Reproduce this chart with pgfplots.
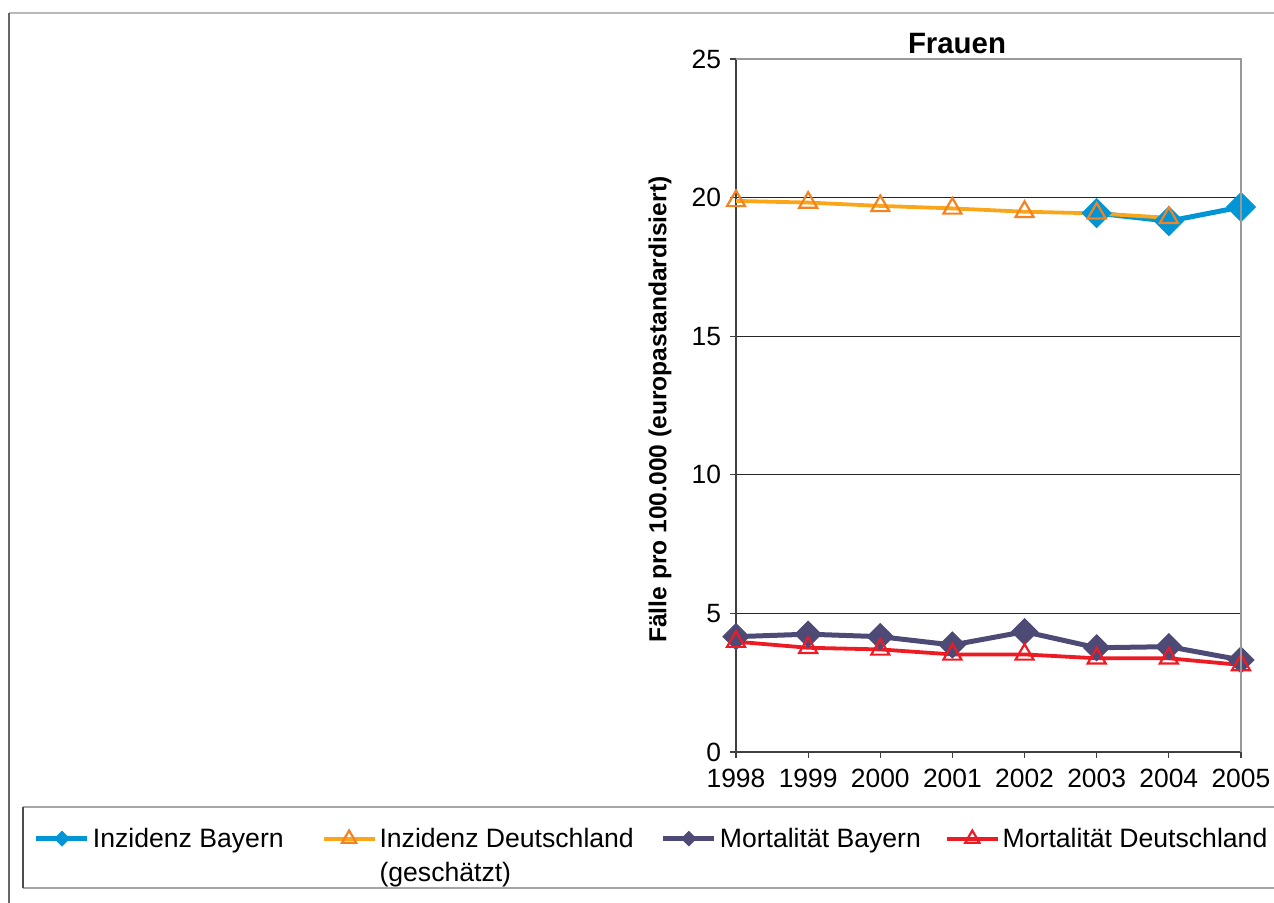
\documentclass[border=0pt]{standalone}
\usepackage{pgfplots}
\pgfplotsset{compat=1.18}
\usepackage{fontspec}
\setmainfont{Liberation Sans}
\definecolor{cBlue}{RGB}{0,150,214}
\definecolor{cOrange}{RGB}{249,166,26}
\definecolor{cOrangeM}{RGB}{245,130,32}
\definecolor{cPurple}{RGB}{78,74,118}
\definecolor{cRed}{RGB}{237,28,36}
\begin{document}
\begin{tikzpicture}[x=0.5pt,y=0.5pt]
\path[use as bounding box] (0,0) rectangle (1274,903);
% outer frame
\draw[gray!55, line width=0.6pt] (9,890) -- (1290,890);
\draw[black!60, line width=1pt] (9,890) -- (9,-10);
% legend box
\draw[gray!70, line width=0.6pt] (1290,96) -- (23,96);
\draw[gray!70, line width=0.6pt] (1290,15) -- (23,15);
\draw[black!70, line width=0.6pt] (23,96) -- (23,15);
% title
\node[anchor=base, font=\bfseries\fontsize{14.7}{17}\selectfont, inner sep=0pt] at (957,849) {Frauen};
\begin{axis}[
  at={(368pt,75.5pt)}, anchor=south west,
  scale only axis, width=252.5pt, height=346.5pt,
  xmin=1998, xmax=2005, ymin=0, ymax=25,
  xtick={1998,...,2005}, ytick={0,5,...,25},
  axis x line*=bottom, axis y line*=left,
  axis line style={black!75, line width=0.6pt, -},
  tick style={black!75, line width=0.6pt},
  tick align=outside, major tick length=3pt,
  ymajorgrids, grid style={black!85, line width=0.5pt},
  xticklabel style={/pgf/number format/1000 sep=, yshift=-2pt},
  yticklabel style={xshift=-1pt},
  /pgf/number format/assume math mode=true,
  tick label style={font=\fontsize{13.2}{15}\selectfont},
  ylabel={Fälle pro 100.000 (europastandardisiert)},
  every axis y label/.style={at={(axis description cs:-0.1505,0.494)}, rotate=90, anchor=center, font=\bfseries\fontsize{12.3}{14}\selectfont},
  after end axis/.code={\draw[gray!80, line width=0.6pt] (rel axis cs:0,1) -- (rel axis cs:1,1) -- (rel axis cs:1,0);},
  legend columns=4,
  legend style={at={(-1.3902,-0.0996)}, anchor=north west, draw=none, fill=none, inner sep=0pt, outer sep=0pt,
    font=\fontsize{13.3}{17}\selectfont,
    cells={anchor=base west},
    nodes={inner sep=1.5pt},
    /tikz/every odd column/.append style={column sep=0pt},
    /tikz/column 2/.append style={column sep=17.5pt},
    /tikz/column 4/.append style={column sep=12pt},
    /tikz/column 6/.append style={column sep=10.5pt}},
  legend image code/.code={\draw[mark repeat=2, mark phase=2] plot coordinates {(0pt,4.6pt)(12.75pt,4.6pt)(25.5pt,4.6pt)};},
]
\addplot[cBlue, line width=2.5pt, mark=square*, mark size=5.1pt, mark options={rotate=45, solid, line width=0.5pt},
  legend image post style={every mark/.append style={scale=0.5}}] coordinates {(2003,19.44)(2004,19.15)(2005,19.66)};
\addlegendentry{Inzidenz Bayern}
\addplot[cOrange, line width=1.9pt, mark=triangle, mark size=5.2pt, mark options={cOrangeM, line width=1.1pt, fill=none, solid},
  legend image post style={every mark/.append style={scale=0.78}}] coordinates {(1998,19.88)(1999,19.82)(2000,19.70)(2001,19.61)(2002,19.49)(2003,19.43)(2004,19.27)};
\addlegendentry{\begin{tabular}[t]{@{}l@{}}Inzidenz Deutschland\\(geschätzt)\end{tabular}}
\addplot[cPurple, line width=2.5pt, mark=square*, mark size=4.6pt, mark options={rotate=45, solid, line width=0.5pt},
  legend image post style={every mark/.append style={scale=0.55}}] coordinates {(1998,4.16)(1999,4.25)(2000,4.16)(2001,3.86)(2002,4.34)(2003,3.76)(2004,3.80)(2005,3.32)};
\addlegendentry{Mortalität Bayern}
\addplot[cRed, line width=1.9pt, mark=triangle, mark size=5.2pt, mark options={cRed, line width=1.1pt, fill=none, solid},
  legend image post style={every mark/.append style={scale=0.78}}] coordinates {(1998,3.98)(1999,3.76)(2000,3.70)(2001,3.52)(2002,3.52)(2003,3.38)(2004,3.38)(2005,3.14)};
\addlegendentry{Mortalität Deutschland}
\end{axis}
\end{tikzpicture}
\end{document}
